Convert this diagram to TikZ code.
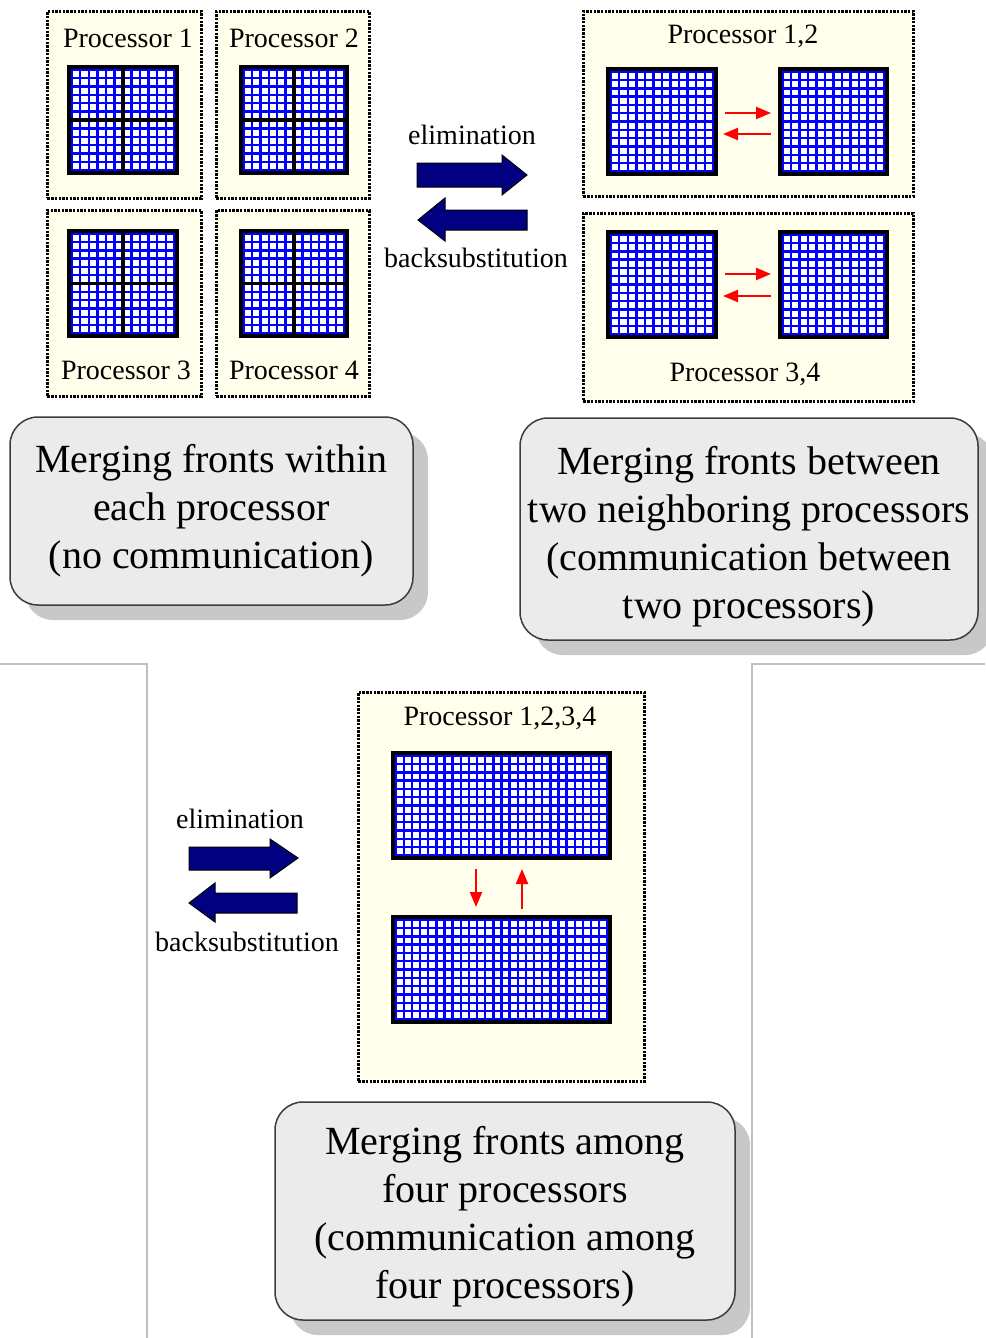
\documentclass[tikz,border=0pt]{standalone}
\usepackage{fontspec}
\setmainfont{Liberation Serif}
\usetikzlibrary{arrows.meta,calc,shadows}
\definecolor{cream}{HTML}{FFFFEB}
\definecolor{navyfill}{HTML}{000080}
\definecolor{boxgray}{HTML}{EBEBEB}
\definecolor{shadowgray}{HTML}{C8C8C8}
\definecolor{framegray}{HTML}{C0C0C0}
\definecolor{meshblue}{HTML}{0000FF}
\definecolor{edgegray}{HTML}{3C3C3C}
\def\meshlw{2.4}
\newcommand{\drawmesh}[7]{%
  \pgfmathsetmacro{\mshw}{#4-#2}%
  \pgfmathsetmacro{\mshh}{#5-#3}%
  \pgfmathsetmacro{\mshpx}{(\mshw-3-\meshlw)/#6}%
  \pgfmathsetmacro{\mshpy}{(\mshh-3-\meshlw)/#7}%
  \pgfmathtruncatemacro{\mshnx}{#6-1}%
  \pgfmathtruncatemacro{\mshny}{#7-1}%
  \node[meshbox, minimum width=\mshw pt, minimum height=\mshh pt, anchor=north west] (#1) at (#2,#3) {};
  \foreach \i in {0,...,\mshnx} {\foreach \j in {0,...,\mshny} {
    \fill[white] ({#2+1.5+\meshlw+\i*\mshpx},{#3+1.5+\meshlw+\j*\mshpy}) rectangle ({#2+1.5+(\i+1)*\mshpx},{#3+1.5+(\j+1)*\mshpy});
  }}
  \draw[black, line width=3.5pt] (#1.north west) rectangle (#1.south east);
}
\begin{document}
\begin{tikzpicture}[x=1pt,y=-1pt,
  meshbox/.style={fill=meshblue, draw=none, inner sep=0pt, outer sep=0pt},
  procbox/.style={draw=black, fill=cream, line width=2.8pt, dash pattern=on 2.4pt off 1.3pt, inner sep=0pt, anchor=north west},
  proclabel/.style={font=\fontsize{28}{30}\selectfont, inner sep=0pt},
  textbox/.style={draw=edgegray, line width=1.5pt, fill=boxgray, rounded corners=28pt, inner sep=0pt,
     drop shadow={shadow xshift=15pt, shadow yshift=-15pt, fill=shadowgray, opacity=1}},
  boxtext/.style={align=center, inner sep=0pt, font=\fontsize{40}{48}\selectfont},
  bigarrow/.style={fill=navyfill, draw=black, line width=1pt},
  redarrow/.style={draw=red, line width=2.3pt, -{Triangle[length=15pt,width=12pt]}},
  crossline/.style={black, line width=3.6pt}
]
\fill[white] (0,0) rectangle (985,1338);
\useasboundingbox (0,0) rectangle (985,1338);

% frame lines of the lower panel
\draw[framegray, line width=1.5pt] (0,664) -- (147,664) -- (147,1338);
\draw[framegray, line width=1.5pt] (752,1338) -- (752,664) -- (985,664);

% ---------- top-left: four processors ----------
\node[procbox, minimum width=154pt, minimum height=187pt] (p1) at (46,10) {};
\node[procbox, minimum width=153pt, minimum height=187pt] (p2) at (215,10) {};
\node[procbox, minimum width=154pt, minimum height=186pt] (p3) at (46,209) {};
\node[procbox, minimum width=153pt, minimum height=186pt] (p4) at (215,209) {};
\node[proclabel] (lp1) at (128,38) {Processor 1};
\node[proclabel] (lp2) at (294,38) {Processor 2};
\node[proclabel] (lp3) at (126,370) {Processor 3};
\node[proclabel] (lp4) at (294,370) {Processor 4};

\drawmesh{g1}{69}{67}{177}{173}{12}{12}
\drawmesh{g2}{241}{67}{347}{173}{12}{12}
\drawmesh{g3}{69}{231}{177}{336}{12}{12}
\drawmesh{g4}{241}{231}{347}{336}{12}{12}
\foreach \g in {g1,g2,g3,g4} {
  \draw[crossline] (\g.north) -- (\g.south);
  \draw[crossline] (\g.west) -- (\g.east);
}

% ---------- top middle arrows ----------
\node[proclabel] (elim1) at (472,135) {elimination};
\draw[bigarrow] (417,163) -- (502,163) -- (502,155) -- (527,175) -- (502,195) -- (502,187) -- (417,187) -- cycle;
\draw[bigarrow] (527,210) -- (445,210) -- (445,198) -- (418,220) -- (445,241) -- (445,230) -- (527,230) -- cycle;
\node[proclabel] (back1) at (476,258) {backsubstitution};

% ---------- top right: two processors ----------
\node[procbox, minimum width=330pt, minimum height=185pt] (p12) at (582,10) {};
\node[procbox, minimum width=330pt, minimum height=188pt] (p34) at (582,212) {};
\node[proclabel] (lp12) at (743,36) {Processor 1,2};
\node[proclabel] (lp34) at (745,374) {Processor 3,4};
\drawmesh{g12a}{608}{69}{716}{174}{12}{12}
\drawmesh{g12b}{780}{69}{887}{174}{12}{12}
\drawmesh{g34a}{608}{232}{716}{337}{12}{12}
\drawmesh{g34b}{780}{232}{887}{337}{12}{12}
\draw[redarrow] ($(g12a.east)+(9,-8.5)$) -- ($(g12b.west)+(-9,-8.5)$);
\draw[redarrow] ($(g12b.west)+(-9,12.5)$) -- ($(g12a.east)+(7,12.5)$);
\draw[redarrow] ($(g34a.east)+(9,-10.5)$) -- ($(g34b.west)+(-9,-10.5)$);
\draw[redarrow] ($(g34b.west)+(-9,11.5)$) -- ($(g34a.east)+(7,11.5)$);

% ---------- text boxes ----------
\node[textbox, minimum width=403pt, minimum height=188pt] (t1) at (211.5,511) {};
\node[boxtext] (t1txt) at (211.5,511) {Merging fronts within\\each processor\\(no communication)};
\node[textbox, minimum width=458pt, minimum height=222pt] (t2) at (749,529) {};
\node[boxtext] (t2txt) at (749,537) {Merging fronts between\\two neighboring processors\\(communication between\\two processors)};
\node[textbox, minimum width=460pt, minimum height=218pt] (t3) at (505,1211) {};
\node[boxtext] (t3txt) at (505,1217) {Merging fronts among\\four processors\\(communication among\\four processors)};

% ---------- bottom: four processors merged ----------
\node[procbox, minimum width=286pt, minimum height=389pt] (p1234) at (357,691) {};
\node[proclabel] (lp1234) at (500,718) {Processor 1,2,3,4};
\drawmesh{gA}{393}{753}{610}{858}{26}{12}
\drawmesh{gB}{393}{917}{610}{1022}{26}{12}
\draw[redarrow] ($(gA.south)+(-25.5,11)$) -- ($(gB.north)+(-25.5,-10)$);
\draw[redarrow] ($(gB.north)+(20.5,-8)$) -- ($(gA.south)+(20.5,11)$);

\node[proclabel] (elim2) at (240,819) {elimination};
\draw[bigarrow] (189,847) -- (270,847) -- (270,839) -- (298,858) -- (270,878) -- (270,870) -- (189,870) -- cycle;
\draw[bigarrow] (297,893) -- (215,893) -- (215,883) -- (189,903) -- (215,922) -- (215,913) -- (297,913) -- cycle;
\node[proclabel] (back2) at (247,942) {backsubstitution};
\end{tikzpicture}
\end{document}
